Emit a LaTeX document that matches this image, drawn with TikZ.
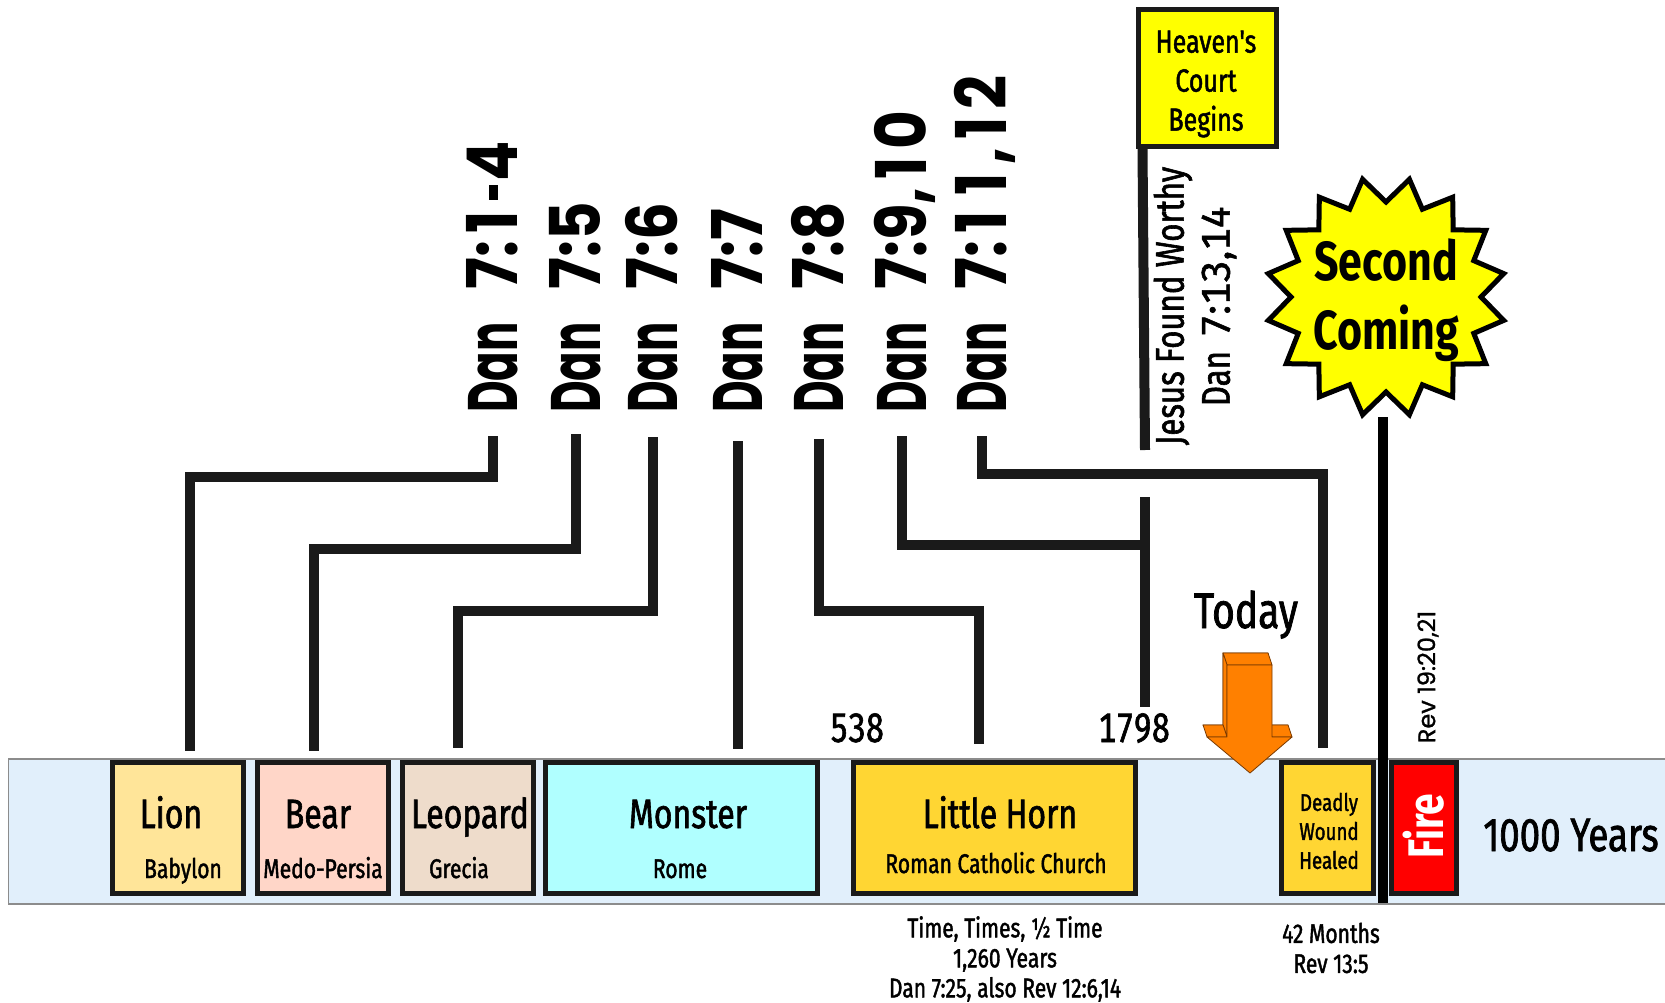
\documentclass[tikz,border=0pt]{standalone}
\usepackage{fontspec}
\newfontfamily\hand[FakeStretch=0.78,FakeBold=1.5]{Fira Sans}
\newfontfamily\handn[FakeStretch=0.78,FakeBold=1.5,Numbers=Monospaced]{Fira Sans}
\newfontfamily\handw[FakeBold=1.5,Numbers=Monospaced]{Fira Sans}
\newfontfamily\handb[FakeStretch=0.78]{Fira Sans}
\newfontfamily\danA[FakeStretch=0.62]{Poppins}
\newfontfamily\danB[FakeStretch=0.85]{Poppins}
\newfontfamily\revfont[FakeBold=1]{Poppins}
\newcommand\fsz[2]{\fontsize{#1}{#2}\selectfont}
\newcommand\done{\makebox[38pt]{1}}
\newcommand\dhy{\hspace{3pt}\rule[20pt]{15pt}{9pt}\hspace{3pt}}
\definecolor{linec}{HTML}{1A1A1A}
\definecolor{bandc}{HTML}{E1EFFB}
\definecolor{bandline}{HTML}{8C8C8C}
\definecolor{lionc}{HTML}{FFE599}
\definecolor{bearc}{HTML}{FFD6C8}
\definecolor{leopc}{HTML}{EEDCCB}
\definecolor{monc}{HTML}{B0FFFF}
\definecolor{hornc}{HTML}{FFD633}
\definecolor{firec}{HTML}{FF0000}
\definecolor{yelc}{HTML}{FFFF00}
\definecolor{orangec}{HTML}{FF8000}
\definecolor{orangeline}{HTML}{7A3A00}
\begin{document}
\begin{tikzpicture}[x=1pt,y=-1pt,
  box/.style={draw=linec, line width=5pt, minimum height=131pt, inner sep=0pt},
  title/.style={font=\hand\fsz{41}{45}, inner sep=0pt, anchor=base},
  sub/.style={font=\hand\fsz{27}{30}, inner sep=0pt, anchor=base},
  small/.style={font=\hand\fsz{27}{30}, inner sep=0pt, align=center},
  dan/.style={rotate=90, anchor=west, inner sep=0pt, text height=49pt, text depth=0pt, font=\fsz{70}{72}\bfseries},
  conn/.style={line width=10pt, draw=linec, line join=miter},
  arrowsty/.style={fill=orangec, draw=orangeline, line width=0.8pt, line join=round},
  burststy/.style={fill=yelc, draw=black, line width=5pt, line join=miter}
]
\useasboundingbox (0,0) rectangle (1665,1003);

% timeline band
\draw[fill=bandc, draw=bandline, line width=1.5pt] (8.5,759) rectangle (1690,904);

% boxes
\node[box, fill=lionc, minimum width=131pt] (lion) at (178,828) {};
\node[box, fill=bearc, minimum width=131pt] (bear) at (323,828) {};
\node[box, fill=leopc, minimum width=131pt] (leopard) at (468,828) {};
\node[box, fill=monc, minimum width=272pt] (monster) at (681.5,828) {};
\node[box, fill=hornc, minimum width=282pt] (horn) at (994.5,828) {};
\node[box, fill=hornc, minimum width=92pt] (deadly) at (1327.5,828) {};
\node[box, fill=firec, minimum width=65pt] (fire) at (1424,828) {};

% box texts
\node[title] (liont) at (171,828) {Lion};
\node[sub] (lions) at (183,878) {Babylon};
\node[title] (beart) at (318,828) {Bear};
\node[sub] (bears) at (323,878) {Medo-Persia};
\node[title] (leopt) at (470,828) {Leopard};
\node[sub] (leops) at (459,878) {Grecia};
\node[title] (mont) at (688,828) {Monster};
\node[sub] (mons) at (680,878) {Rome};
\node[title] (hornt) at (1000,828) {Little Horn};
\node[sub] (horns) at (996,873) {Roman Catholic Church};
\node[font=\hand\fsz{24}{29}, inner sep=0pt, align=center] (deadlyt) at (1329,831) {Deadly\\Wound\\Healed};
\node[rotate=90, text=white, inner sep=0pt, font=\handb\bfseries\fsz{50}{50}] (firet) at (1424,826) {Fire};
\node[font=\hand\fsz{47}{50}, inner sep=0pt, anchor=base] (thousand) at (1571,851) {1000 Years};

% dates
\node[font=\handn\fsz{41}{44}, inner sep=0pt, anchor=base] (d538) at (857,742) {538};
\node[font=\handn\fsz{41}{44}, inner sep=0pt, anchor=base] (d1798) at (1134,742) {1798};

% bottom notes
\node[small] (tt) at (1005,959) {Time, Times, ½ Time\\1,260 Years\\Dan 7:25, also Rev 12:6,14};
\node[small] (months) at (1331,948) {42 Months\\Rev 13:5};

% Daniel labels
\node[dan] (d1) at (493,413) {\danA Dan\hspace{33pt}\danB 7:\done\dhy 4};
\node[dan] (d2) at (576,413) {\danA Dan\hspace{33pt}\danB 7:5};
\node[dan] (d3) at (653,413) {\danA Dan\hspace{33pt}\danB 7:6};
\node[dan] (d4) at (738,413) {\danA Dan\hspace{33pt}\danB 7:7};
\node[dan] (d5) at (819,413) {\danA Dan\hspace{33pt}\danB 7:8};
\node[dan] (d6) at (902,413) {\danA Dan\hspace{33pt}\danB 7:9,\done 0};
\node[dan] (d7) at (982,413) {\danA Dan\hspace{33pt}\danB 7:\done\done,\done 2};

% connector end points
\coordinate (e1) at (190,751);
\coordinate (e2) at (314,751);
\coordinate (e3) at (458,748);
\coordinate (e4) at (738,749);
\coordinate (e5) at (979,744);
\coordinate (e7) at (1323,748);
\coordinate (t1798) at (1145,497);
\coordinate (b1798) at (1145,707);
\coordinate (cend) at (1145,450);

\draw[conn] ([yshift=-23pt]d1.west) -- ++(0,41) -| (e1);
\draw[conn] ([yshift=-21pt]d2.west) -- ++(0,115) -| (e2);
\draw[conn] ([yshift=-24pt]d3.west) -- ++(0,174) -| (e3);
\draw[conn] ([yshift=-28pt]d4.west) -- (e4);
\draw[conn] ([yshift=-26pt]d5.west) -- ++(0,172) -| (e5);
\draw[conn] (t1798) -- (b1798);
\draw[conn] ([yshift=-23pt]d6.west) |- ([yshift=162pt]b1798);
\draw[conn] ([yshift=-23pt]d7.west) -- ++(0,38) -| (e7);

% Heaven's court
\node[draw=linec, fill=yelc, line width=5pt, minimum width=138pt, minimum height=137pt, inner sep=0pt] (court) at (1207.5,78) {};
\node[font=\hand\fsz{32}{39}, align=center, inner sep=0pt] (courtt) at (1206,84) {Heaven's\\Court\\Begins};
\draw[conn] ([xshift=6.5pt]court.south west) -- (cend);
\node[rotate=90, align=center, inner sep=0pt, font=\hand\fsz{40}{46}] (jesus) at (1195,306) {Jesus Found Worthy\\Dan\hspace{14pt}{\handw 7:13,14}};

% Second coming starburst
\draw[burststy] (1481,297) \foreach \i in {0,...,15} { -- ({1386+120*cos(22.5*\i+11.25)},{297+120*sin(22.5*\i+11.25)}) -- ({1386+95*cos(22.5*\i+22.5)},{297+95*sin(22.5*\i+22.5)}) } -- cycle;
\node[align=center, inner sep=0pt, font=\handb\bfseries\fsz{55}{69}] (sc) at (1386,300) {Second\\Coming};
\coordinate (sctop) at (1383,417);
\coordinate (scbot) at (1383,903);
\draw[line width=10pt, draw=black] (sctop) -- (scbot);

\node[rotate=90, inner sep=0pt, font=\revfont\fsz{24}{28}] (rev) at (1428,677) {Rev 19:20,21};

% Today arrow
\node[font=\hand\fsz{50}{54}, inner sep=0pt, anchor=base] (today) at (1246,628) {Today};
\draw[arrowsty] (1223,653) -- (1268,653) -- (1268,725) -- (1288,725) -- (1246,761) -- (1203,725) -- (1223,725) -- cycle;
\draw[arrowsty] (1223,653) -- (1268,653) -- (1272,665) -- (1227,665) -- cycle;
\draw[arrowsty] (1223,653) -- (1227,665) -- (1227,737) -- (1223,725) -- cycle;
\draw[arrowsty] (1203,725) -- (1223,725) -- (1227,737) -- (1207,737) -- cycle;
\draw[arrowsty] (1268,725) -- (1288,725) -- (1292,737) -- (1272,737) -- cycle;
\draw[arrowsty] (1227,665) -- (1272,665) -- (1272,737) -- (1292,737) -- (1250,773) -- (1207,737) -- (1227,737) -- cycle;
\end{tikzpicture}
\end{document}
